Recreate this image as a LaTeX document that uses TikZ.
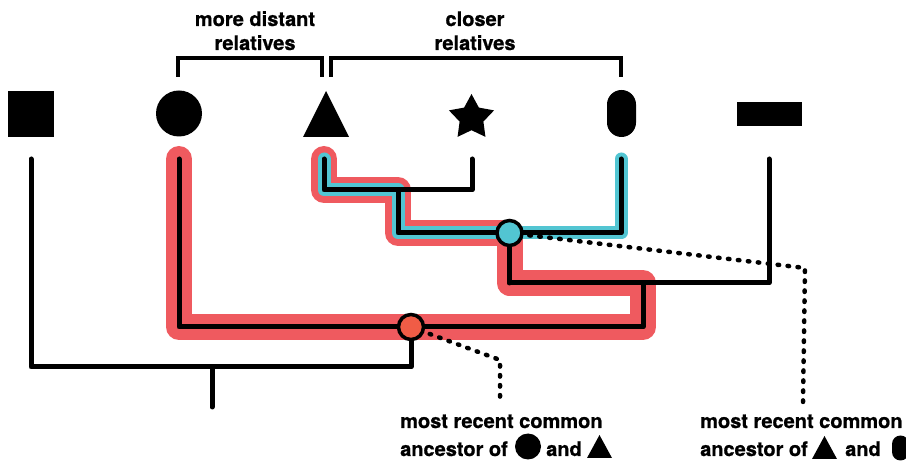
\documentclass[tikz,border=0pt]{standalone}
\usepackage{fontspec}
\setmainfont{TeX Gyre Heros}[BoldFeatures={FakeBold=0.8}]
\usetikzlibrary{shapes.geometric,calc}
\definecolor{hlred}{RGB}{239,90,95}
\definecolor{hlcyan}{RGB}{82,197,210}
\definecolor{mrcaorange}{RGB}{240,92,70}
\begin{document}
\begin{tikzpicture}[x=1pt,y=-1pt,
  tree/.style={line width=5pt,line cap=round,line join=round,black},
  redhl/.style={line width=26pt,line cap=round,line join=round,hlred},
  cyanhl/.style={line width=13pt,line cap=round,line join=round,hlcyan},
  brk/.style={line width=4pt,line join=miter,black},
  dots/.style={line width=4.5pt,line cap=round,dash pattern=on 1.5pt off 8.5pt,black},
  mrca/.style={circle,draw=black,line width=3.5pt,minimum size=25pt,inner sep=0pt},
  lbl/.style={font=\fontsize{20}{24}\selectfont\bfseries,inner sep=0pt},
  tip/.style={fill=black,inner sep=0pt}]
\useasboundingbox (0,0) rectangle (906,462);
\clip (0,0) rectangle (906,462);
% taxa
\node[tip,rectangle,minimum size=46pt] (sq) at (31,114) {};
\node[tip,circle,minimum size=46pt] (ci) at (179,113.5) {};
\coordinate (tr) at (326,114);
\fill[black] (303,137) -- (326,91) -- (349,137) -- cycle;
\coordinate (st) at (471.5,117.7);
\fill[black,shift={(471.5,117.7)}] (-90:23.7) -- (-54:12.5) -- (-18:23.7) -- (18:12.5) -- (54:23.7) -- (90:12.5) -- (126:23.7) -- (162:12.5) -- (198:23.7) -- (234:12.5) -- cycle;
\node[tip,rectangle,rounded corners=14.5pt,minimum width=29pt,minimum height=47pt] (pi) at (621.5,113.5) {};
\node[tip,rectangle,minimum width=65pt,minimum height=24pt] (re) at (769.5,114) {};
% tree coordinates
\coordinate (aS) at (31,159);
\coordinate (aC) at (179,159);
\coordinate (aT) at (324,159);
\coordinate (aSt) at (472,159);
\coordinate (aP) at (621,159);
\coordinate (aR) at (769,159);
\coordinate (root) at (212,407);
% highlights
\draw[redhl] (aC) -- (179,327) -- (643,327) -- (643,283) -- (509.5,283) -- (509.5,233) -- (398,233) -- (398,190) -- (324,190) -- (aT);
\draw[cyanhl] (aT) -- (324,190) -- (398,190) -- (398,233) -- (621,233) -- (aP);
% dotted leaders
\coordinate (cyc) at (509.5,233);
\coordinate (orc) at (411,327);
\draw[dots] (cyc) -- (805,268) -- (803,402);
\draw[dots] (orc) -- (500,360) -- (500,403);
% tree
\draw[tree] (aT) -- (324,190) -- (472,190) -- (aSt);
\draw[tree] (398,190) -- (398,233) -- (621,233) -- (aP);
\draw[tree] (509.5,233) -- (509.5,283);
\draw[tree] (509.5,283) -- (769,283) -- (aR);
\draw[tree] (aC) -- (179,327) -- (643,327) -- (643,283);
\draw[tree] (411,327) -- (411,367) -- (31,367) -- (aS);
\draw[tree] (212,367) -- (root);
% MRCA nodes
\node[mrca,fill=hlcyan] (cy) at (cyc) {};
\node[mrca,fill=mrcaorange] (or) at (orc) {};
% brackets
\draw[brk] (178,77) -- (178,58) -- (322,58) -- (322,77);
\draw[brk] (331,77) -- (331,58) -- (621,58) -- (621,77);
\node[lbl,anchor=base] (t1a) at (255,26) {more distant};
\node[lbl,anchor=base] (t1b) at (255,50) {relatives};
\node[lbl,anchor=base] (t2a) at (475,26) {closer};
\node[lbl,anchor=base] (t2b) at (475,50) {relatives};
% bottom left label
\node[lbl,anchor=base west] (l1) at (400,428) {most recent common};
\node[lbl,anchor=base west] (l2) at (400,456) {ancestor of};
\node[tip,circle,minimum size=26pt] (lci) at (528,446.5) {};
\node[lbl,anchor=base west] (l3) at (546,456) {and};
\fill[black] (587,458) -- (599.5,435) -- (612,458) -- cycle;
% bottom right label
\node[lbl,anchor=base west] (r1) at (700,428) {most recent common};
\node[lbl,anchor=base west] (r2) at (700,456) {ancestor of};
\fill[black] (812,459) -- (824.5,436) -- (837,459) -- cycle;
\node[lbl,anchor=base west] (r3) at (845,456) {and};
\node[tip,rectangle,rounded corners=8.5pt,minimum width=17pt,minimum height=25pt] (rpi) at (900.5,448) {};
\end{tikzpicture}
\end{document}
